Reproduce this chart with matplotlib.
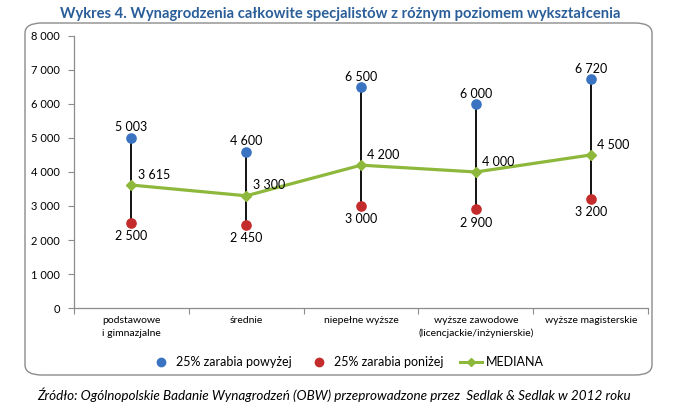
import matplotlib
matplotlib.use("Agg")
import matplotlib.pyplot as plt
from matplotlib.patches import FancyBboxPatch
from matplotlib.lines import Line2D
import numpy as np

plt.rcParams['font.family'] = ['Lato', 'DejaVu Sans']

categories = ["podstawowe\ni gimnazjalne", "średnie", "niepełne wyższe",
              "wyższe zawodowe\n(licencjackie/inżynierskie)", "wyższe magisterskie"]
upper = [5003, 4600, 6500, 6000, 6720]
lower = [2500, 2450, 3000, 2900, 3200]
median = [3615, 3300, 4200, 4000, 4500]
yticks = [0, 1000, 2000, 3000, 4000, 5000, 6000, 7000, 8000]

blue = '#3A73C2'
red = '#C42B2B'
green = '#8DB83C'


def fmt(v):
    return f"{v:,}".replace(",", " ")


fig = plt.figure(figsize=(6.73, 4.08), dpi=100)
ax = fig.add_axes([0.110, 0.245, 0.853, 0.667])

# rounded frame around chart
frame = FancyBboxPatch((25 / 673, 33 / 408), 627 / 673, 352 / 408,
                       boxstyle="round,pad=0,rounding_size=0.025",
                       transform=fig.transFigure, facecolor='none',
                       edgecolor='#8c8c8c', linewidth=1.0, zorder=0)
fig.patches.append(frame)

x = np.arange(len(categories))

ax.vlines(x, lower, upper, color='black', linewidth=1.3, zorder=2)
ax.plot(x, median, color=green, linewidth=2.3, marker='D', markersize=5,
        zorder=3)
ax.scatter(x, upper, s=44, color=blue, zorder=4)
ax.scatter(x, lower, s=44, color=red, zorder=4)

for i in x:
    ax.annotate(fmt(upper[i]), (i, upper[i]), xytext=(0, 7.5),
                textcoords='offset points', ha='center', va='center', fontsize=9)
    ax.annotate(fmt(lower[i]), (i, lower[i]), xytext=(0, -9.5),
                textcoords='offset points', ha='center', va='center', fontsize=9)
    ax.annotate(fmt(median[i]), (i, median[i]), xytext=(4.5, 7.5),
                textcoords='offset points', ha='left', va='center', fontsize=9)

ax.set_xlim(-0.5, len(categories) - 0.5)
ax.set_ylim(0, 8000)
ax.set_yticks(yticks)
ax.set_yticklabels([fmt(v) for v in yticks], fontsize=8)
ax.set_xticks(np.arange(-0.5, len(categories)), minor=False)
ax.set_xticklabels([])
ax.set_xticks(x, minor=True)
ax.set_xticklabels(categories, minor=True, fontsize=7.5, linespacing=1.45)
ax.tick_params(axis='x', which='minor', length=0, pad=6)
ax.tick_params(axis='x', which='major', length=4, color='#8c8c8c', direction='out')
ax.tick_params(axis='y', length=4, color='#8c8c8c', pad=6)

for side in ['top', 'right']:
    ax.spines[side].set_visible(False)
for side in ['left', 'bottom']:
    ax.spines[side].set_color('#8c8c8c')
    ax.spines[side].set_linewidth(0.9)
ax.patch.set_visible(False)

handles = [
    Line2D([], [], marker='o', color=blue, linestyle='none', markersize=6),
    Line2D([], [], marker='o', color=red, linestyle='none', markersize=6),
    Line2D([], [], marker='D', color=green, linewidth=2.2, markersize=4),
]
fig.legend(handles, ["25% zarabia powyżej", "25% zarabia poniżej", "MEDIANA"],
           loc='center', bbox_to_anchor=(0.515, 0.113), ncol=3, frameon=False,
           fontsize=9, handlelength=1.8, handletextpad=0.3, columnspacing=1.3)

fig.text(0.505, 0.966, "Wykres 4. Wynagrodzenia całkowite specjalistów z różnym poziomem wykształcenia",
         ha='center', va='center', fontsize=10.6, fontweight='bold', color='#2A5E99')
fig.text(0.497, 0.032, "Źródło: Ogólnopolskie Badanie Wynagrodzeń (OBW) przeprowadzone przez  Sedlak & Sedlak w 2012 roku",
         ha='center', va='center', fontsize=9.7, style='italic', color='black')

fig.savefig('out.png', dpi=100)
